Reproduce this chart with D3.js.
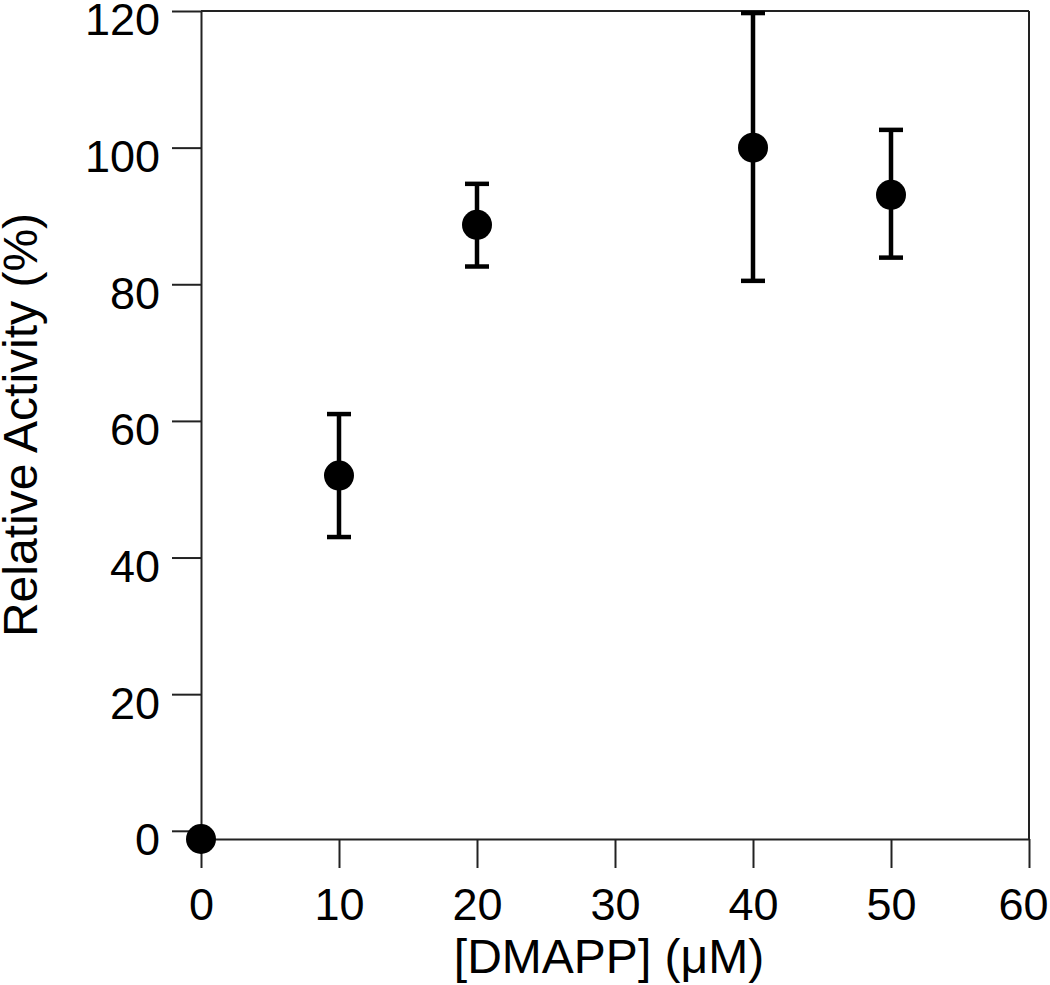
<!DOCTYPE html>
<html>
<head>
<meta charset="utf-8">
<script src="https://cdn.jsdelivr.net/npm/d3@7"></script>
<style>
	body { margin: 0; background: #fff; }
	svg { display: block; font-family: "Liberation Sans", Arial, sans-serif; }
</style>
</head>
<body>
<div id="chart"></div>
<script>
// data
const dmapp = [0, 10, 20, 40, 50]
const activity = [-1.2, 52.0, 88.7, 100.0, 93.1]
const errLow = [null, 43.0, 82.6, 80.5, 83.9]
const errHigh = [null, 61.0, 94.7, 119.7, 102.6]
const xTicks = [0, 10, 20, 30, 40, 50, 60]
const yTicks = [0, 20, 40, 60, 80, 100, 120]

const W = 1050, H = 985
const margin = { top: 11, right: 21, bottom: 146, left: 201 }

const svg = d3.select('#chart').append('svg')
	.attr('width', W)
	.attr('height', H)

const x = d3.scaleLinear().domain([0, 60]).range([margin.left, W - margin.right])
const y = d3.scaleLinear().domain([-1.2, 120]).range([H - margin.bottom, margin.top])

const axisColor = '#222'

// frame (top + right)
svg.append('line')
	.attr('x1', x(0)).attr('x2', x(60))
	.attr('y1', y(120)).attr('y2', y(120))
	.attr('stroke', axisColor).attr('stroke-width', 2)
svg.append('line')
	.attr('x1', x(60)).attr('x2', x(60))
	.attr('y1', y(120)).attr('y2', y(-1.2))
	.attr('stroke', axisColor).attr('stroke-width', 2)

// axes
const gx = svg.append('g')
	.attr('transform', 'translate(0,' + y(-1.2) + ')')
	.call(d3.axisBottom(x).tickValues(xTicks).tickSize(29).tickSizeOuter(0).tickPadding(20))
const gy = svg.append('g')
	.attr('transform', 'translate(' + x(0) + ',0)')
	.call(d3.axisLeft(y).tickValues(yTicks).tickSize(29).tickSizeOuter(0).tickPadding(12))

for (const g of [gx, gy]) {
	g.select('.domain').attr('stroke', axisColor).attr('stroke-width', 2)
	g.selectAll('.tick line').attr('stroke', axisColor).attr('stroke-width', 2)
	g.selectAll('.tick text')
		.attr('fill', '#000')
		.style('font-size', '45px')
		.style('font-family', '"Liberation Sans", Arial, sans-serif')
}
// y labels sit a little below their ticks in the original
gy.selectAll('.tick text').attr('dy', '0.53em')
// keep the last x label inside the page
gx.selectAll('.tick text').filter(d => d === 60).attr('dx', -6)

// axis titles
svg.append('text')
	.attr('x', (x(0) + x(60)) / 2 - 6)
	.attr('y', 973)
	.attr('text-anchor', 'middle')
	.style('font-size', '48px')
	.text('[DMAPP] (\u03BCM)')

svg.append('text')
	.attr('transform', 'translate(37,' + ((y(120) + y(-1.2)) / 2) + ') rotate(-90)')
	.attr('text-anchor', 'middle')
	.style('font-size', '48px')
	.text('Relative Activity (%)')

// error bars
const pts = dmapp.map((d, i) => ({ x: d, y: activity[i], lo: errLow[i], hi: errHigh[i] }))
const bars = svg.append('g').selectAll('g')
	.data(pts.filter(d => d.lo != null))
	.enter().append('g')
	.attr('stroke', '#000')
	.attr('stroke-width', 4.5)

bars.append('line')
	.attr('x1', d => x(d.x)).attr('x2', d => x(d.x))
	.attr('y1', d => y(d.lo)).attr('y2', d => y(d.hi))
bars.append('line')
	.attr('x1', d => x(d.x) - 12).attr('x2', d => x(d.x) + 12)
	.attr('y1', d => y(d.hi)).attr('y2', d => y(d.hi))
bars.append('line')
	.attr('x1', d => x(d.x) - 12).attr('x2', d => x(d.x) + 12)
	.attr('y1', d => y(d.lo)).attr('y2', d => y(d.lo))

// points
svg.append('g').selectAll('circle')
	.data(pts)
	.enter().append('circle')
	.attr('cx', d => x(d.x))
	.attr('cy', d => y(d.y))
	.attr('r', 15)
	.attr('fill', '#000')
</script>
</body>
</html>
